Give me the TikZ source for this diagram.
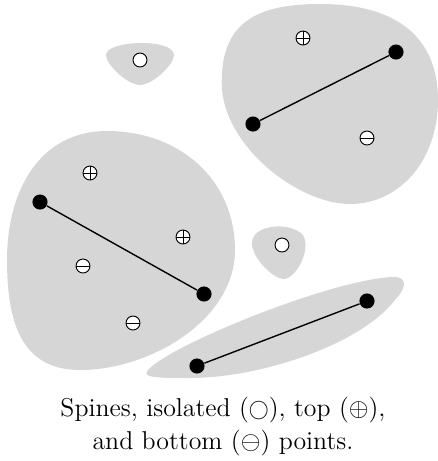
\documentclass[tikz,border=0pt]{standalone}
\usepackage{amsmath}
\usepackage{tikz}
\usetikzlibrary{positioning}
\colorlet{blobGray}{black!16}
\newcommand{\isomark}{\mathord{\vcenter{\hbox{\scalebox{0.78}{$\bigcirc$}}}}}

\begin{document}
\begin{tikzpicture}[x=0.43pt, y=-0.43pt,
  blob/.style={fill=blobGray},
  spine/.style={semithick},
  endpt/.style={circle, fill=black, inner sep=0pt, minimum size=6.5pt},
  isopt/.style={circle, draw, fill=white, inner sep=0pt, minimum size=6pt, thin},
  toppt/.style={isopt, path picture={
      \draw[thin] (path picture bounding box.north) -- (path picture bounding box.south)
                  (path picture bounding box.west) -- (path picture bounding box.east);}},
  botpt/.style={isopt, path picture={
      \draw[thin] (path picture bounding box.west) -- (path picture bounding box.east);}},
]
  \useasboundingbox (0,0) rectangle (438,461);

  % regions
  \fill[blob] (106,55) .. controls (106,40) and (174,38) .. (174,55)
    .. controls (174,65) and (152,85) .. (140,85)
    .. controls (128,85) and (106,65) .. (106,55) -- cycle;
  \fill[blob] (222,90) .. controls (218,20) and (260,4) .. (320,4)
    .. controls (400,4) and (438,40) .. (438,100)
    .. controls (438,160) and (400,204) .. (350,204)
    .. controls (300,204) and (228,150) .. (222,90) -- cycle;
  \fill[blob] (107,131) .. controls (180,131) and (235,180) .. (235,250)
    .. controls (235,320) and (150,370) .. (80,370)
    .. controls (20,370) and (7,320) .. (7,260)
    .. controls (7,190) and (40,131) .. (107,131) -- cycle;
  \fill[blob] (252,245) .. controls (250,224) and (290,221) .. (303,235)
    .. controls (312,250) and (295,280) .. (283,279)
    .. controls (273,278) and (254,260) .. (252,245) -- cycle;
  \fill[blob] (148,370) .. controls (170,345) and (330,280) .. (392,277)
    .. controls (410,276) and (405,290) .. (395,300)
    .. controls (360,345) and (260,378) .. (190,378)
    .. controls (160,378) and (140,378) .. (148,370) -- cycle;

  % spines
  \node[endpt] (a1) at (253,124) {};
  \node[endpt] (a2) at (396,52) {};
  \node[endpt] (b1) at (40,202) {};
  \node[endpt] (b2) at (204,294) {};
  \node[endpt] (c1) at (197,366) {};
  \node[endpt] (c2) at (367,301) {};
  \draw[spine] (a1) -- (a2);
  \draw[spine] (b1) -- (b2);
  \draw[spine] (c1) -- (c2);

  % isolated, top and bottom points
  \node[isopt] (i1) at (140,60) {};
  \node[isopt] (i2) at (282,245) {};
  \node[toppt] (t1) at (303,38) {};
  \node[toppt] (t2) at (90,173) {};
  \node[toppt] (t3) at (183,237) {};
  \node[botpt] (m1) at (367,138) {};
  \node[botpt] (m2) at (83,266) {};
  \node[botpt] (m3) at (133,323) {};

  \node[align=center, font=\fontsize{11.1pt}{14.2pt}\selectfont] (cap) at (223,427) {
    Spines, isolated ($\isomark$), top ($\oplus$),\\
    and bottom ($\ominus$) points.
  };
\end{tikzpicture}
\end{document}
